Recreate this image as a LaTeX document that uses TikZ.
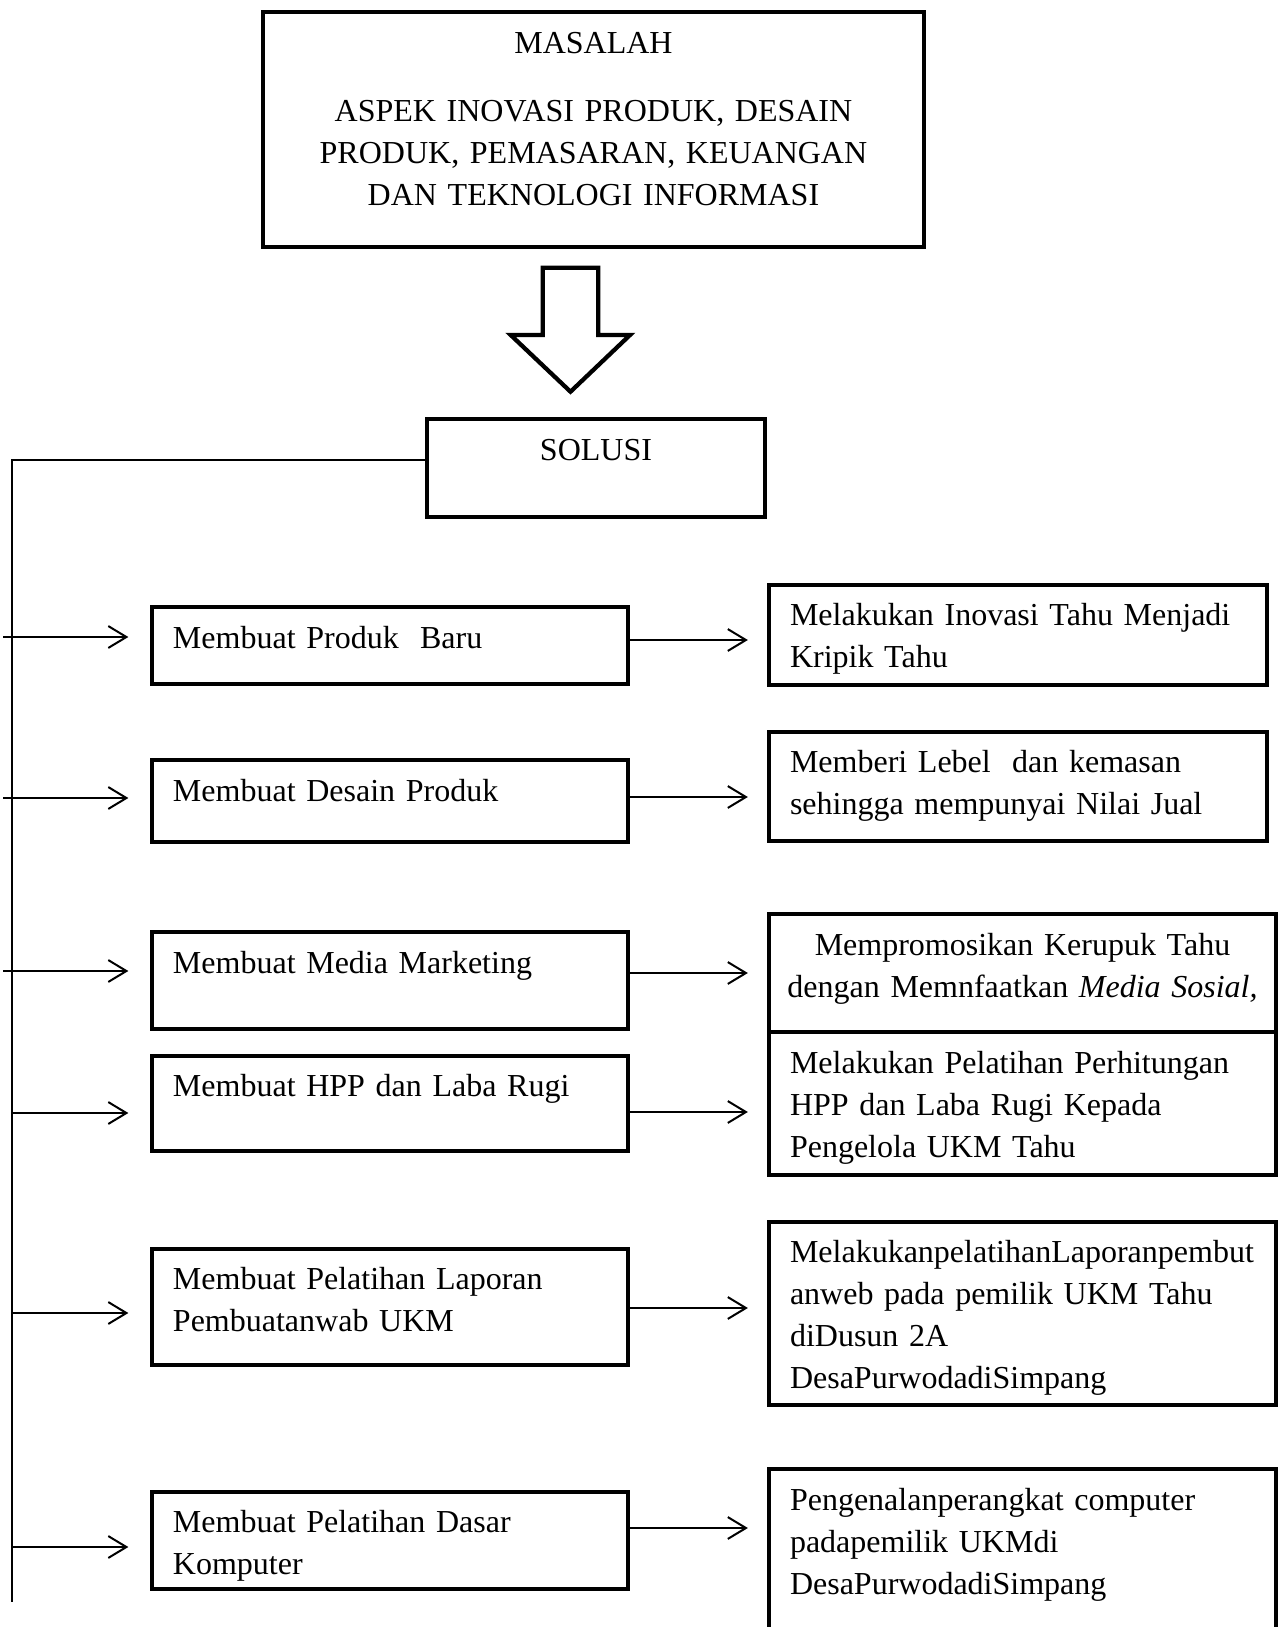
\documentclass[tikz,border=0pt]{standalone}
\usepackage{fontspec}
\setmainfont{Liberation Serif}
\usetikzlibrary{arrows.meta}
\newdimen\unitpx
\unitpx=0.375pt
\hyphenpenalty=10000

\begin{document}
\begin{tikzpicture}[
    x=0.375pt, y=-0.375pt,
    % Styles
    box/.style={
        rectangle,
        draw,
        line width=1.6pt,
        inner xsep=21\unitpx,
        inner ysep=0pt,
        text height=0pt,
        font=\fontsize{12pt}{15.75pt}\selectfont,
        align=left
    },
    solbox/.style={
        box,
        minimum width=476\unitpx,
        text width=434\unitpx
    },
    actbox/.style={
        box,
        minimum width=507\unitpx,
        text width=465\unitpx
    },
    hollow/.style={
        draw,
        fill=white,
        line width=1.6pt
    },
    line/.style={
        line width=0.75pt
    },
    arrow/.style={
        -{Straight Barb[length=6.8pt,width=8.2pt]},
        line width=0.75pt
    }
]
    \useasboundingbox (0,0) rectangle (1281,1627);

    % Top
    \node[box, align=center, inner xsep=20\unitpx, minimum width=661\unitpx, text width=621\unitpx,
          minimum height=235\unitpx, text depth=152\unitpx] (masalah) at (593.5,129.5)
        {MASALAH\\[25.8\unitpx]
         ASPEK INOVASI PRODUK, DESAIN\\
         PRODUK, PEMASARAN, KEUANGAN\\
         DAN TEKNOLOGI INFORMASI};
    \draw[hollow] (542.7,267.7) -- (598.3,267.7) -- (598.3,335) -- (630,335)
        -- (570.5,391.7) -- (510.7,335) -- (542.7,335) -- cycle;
    \node[box, align=center, minimum width=338\unitpx, text width=296\unitpx,
          minimum height=98\unitpx, text depth=16\unitpx] (solusi) at (596,468) {SOLUSI};

    % Solutions
    \node[solbox, minimum height=77\unitpx, text height=5.6\unitpx, text depth=0pt] (sol1) at (390,645.5)
        {Membuat Produk\ \ Baru};
    \node[solbox, minimum height=82\unitpx, text depth=0pt] (sol2) at (390,801)
        {Membuat Desain Produk};
    \node[solbox, minimum height=97\unitpx, text depth=15\unitpx] (sol3) at (390,980.5)
        {Membuat Media Marketing};
    \node[solbox, minimum height=95\unitpx, text depth=14\unitpx] (sol4) at (390,1103.5)
        {Membuat HPP dan Laba Rugi};
    \node[solbox, minimum height=116\unitpx, text depth=35\unitpx] (sol5) at (390,1307)
        {Membuat Pelatihan Laporan\\ Pembuatanwab UKM};
    \node[solbox, minimum height=97\unitpx, text depth=16\unitpx] (sol6) at (390,1540.5)
        {Membuat Pelatihan Dasar\\ Komputer};

    % Activities
    \node[actbox, minimum width=498\unitpx, text width=456\unitpx,
          minimum height=100\unitpx, text depth=20\unitpx] (act1) at (1018,635)
        {Melakukan Inovasi Tahu Menjadi\\ Kripik Tahu};
    \node[actbox, minimum width=498\unitpx, text width=456\unitpx,
          minimum height=109\unitpx, text depth=29\unitpx] (act2) at (1018,786.5)
        {Memberi Lebel\ \ dan kemasan\\ sehingga mempunyai Nilai Jual};
    \node[actbox, align=center, inner xsep=10\unitpx, text width=487\unitpx,
          minimum height=118\unitpx, text depth=36\unitpx] (act3) at (1022.5,973)
        {Mempromosikan Kerupuk Tahu\\ dengan Memnfaatkan \textit{Media Sosial,}};
    \node[actbox, minimum height=143\unitpx, text depth=61\unitpx] (act4) at (1022.5,1103.5)
        {Melakukan Pelatihan Perhitungan\\ HPP dan Laba Rugi Kepada\\ Pengelola UKM Tahu};
    \node[actbox, minimum height=183\unitpx, text depth=103\unitpx] (act5) at (1022.5,1313.5)
        {MelakukanpelatihanLaporanpembut\\ anweb pada pemilik UKM Tahu\\ diDusun 2A\\ DesaPurwodadiSimpang};
    \node[actbox, minimum height=211\unitpx, text depth=129\unitpx] (act6) at (1022.5,1574.5)
        {Pengenalanperangkat computer\\ padapemilik UKMdi\\ DesaPurwodadiSimpang};

    % Paths
    \coordinate (trunk) at (11.5,460);
    \coordinate (trunkend) at (11.5,1602);
    \draw[line] (solusi.west |- trunk) -- (trunk) -- (trunkend);
    \foreach \i/\dy/\sx in {1/8.5/-8, 2/3/-8, 3/9.5/-8, 4/-9.5/0, 5/-6/0, 6/-6.5/0}{
        \coordinate (in\i) at ([yshift=\dy\unitpx]sol\i.west);
        \draw[arrow, shorten >=21.5\unitpx] ([xshift=\sx\unitpx]trunk |- in\i) -- (in\i);
    }
    \foreach \i/\dy in {1/5.5, 2/4, 3/7.5, 4/-8.5, 5/-1, 6/12.5}{
        \coordinate (out\i) at ([yshift=\dy\unitpx]sol\i.east);
        \draw[arrow, shorten >=19\unitpx] (out\i) -- (out\i -| act\i.west);
    }
\end{tikzpicture}
\end{document}
